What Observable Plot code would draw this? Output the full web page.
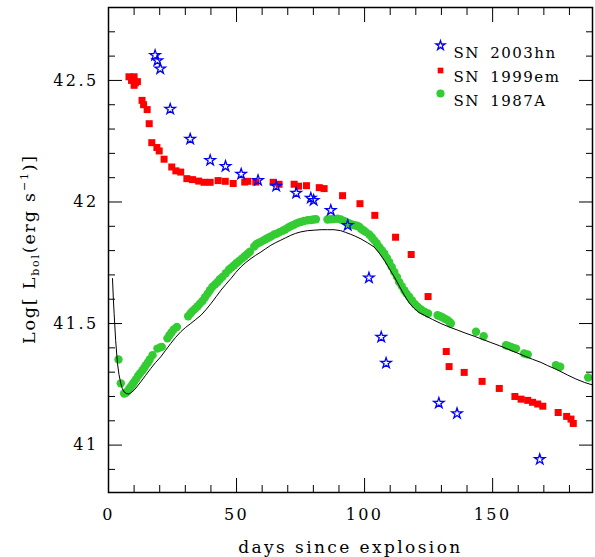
<!DOCTYPE html>
<html><head><meta charset="utf-8">
<script src="https://cdn.jsdelivr.net/npm/d3@7"></script>
<script src="https://cdn.jsdelivr.net/npm/@observablehq/plot@0.6"></script>
<style>body{margin:0;background:#fff}</style>
</head><body><div id="chart"></div>
<script>
// SN 2003hn (blue stars)
const hnDays = [18.2, 19.1, 20.2, 24.1, 31.9, 39.7, 45.7, 51.8, 58.4, 65.5, 73.3, 79.0, 80.1, 86.8, 93.4, 101.7, 106.5, 108.4, 129.0, 136.1, 168.4];
const hnLog  = [42.603, 42.582, 42.548, 42.382, 42.259, 42.171, 42.147, 42.115, 42.089, 42.065, 42.037, 42.016, 42.007, 41.966, 41.904, 41.688, 41.444, 41.337, 41.173, 41.130, 40.941];

// SN 1999em (red squares)
const emDays = [8.0, 9.0, 10.0, 11.3, 10.0, 10.5, 13.1, 13.7, 15.1, 15.9, 16.9, 18.9, 19.8, 21.7, 24.7, 26.3, 28.2, 30.6, 32.8, 35.2, 37.3, 39.7, 42.8, 45.6, 48.7, 53.2, 54.4, 57.5, 64.3, 66.6, 72.5, 74.2, 77.3, 82.3, 84.2, 91.4, 98.2, 104.0, 112.1, 118.2, 124.8, 131.9, 133.0, 138.9, 145.9, 152.6, 158.7, 161.1, 163.7, 165.6, 167.6, 169.6, 175.6, 178.9, 180.6, 181.5];
const emLog  = [42.515, 42.50, 42.515, 42.495, 42.48, 42.49, 42.418, 42.40, 42.38, 42.322, 42.244, 42.224, 42.21, 42.176, 42.144, 42.128, 42.123, 42.096, 42.092, 42.086, 42.081, 42.081, 42.088, 42.085, 42.076, 42.082, 42.085, 42.082, 42.081, 42.073, 42.073, 42.065, 42.067, 42.059, 42.055, 42.026, 41.993, 41.945, 41.855, 41.784, 41.611, 41.385, 41.323, 41.299, 41.262, 41.233, 41.200, 41.189, 41.184, 41.176, 41.169, 41.160, 41.134, 41.118, 41.107, 41.089];

// SN 1987A (green circles)
const aDays = [3.9, 4.8, 6.1, 6.8, 7.4, 8.1, 8.7, 9.4, 10.0, 10.8, 11.6, 12.4, 13.3, 14.0, 14.6, 15.4, 16.1, 17.2, 19.1, 20.2, 20.8, 23.0, 23.8, 24.6, 25.5, 26.7, 31.1, 32.0, 32.8, 33.8, 34.8, 35.7, 36.7, 37.7, 38.7, 39.6, 40.6, 41.6, 42.6, 43.5, 44.5, 45.8, 47.1, 48.1, 49.1, 50.0, 51.0, 52.1, 53.2, 54.2, 55.2, 56.9, 57.8, 58.7, 59.5, 60.5, 61.5, 62.4, 63.4, 64.7, 65.7, 66.8, 68.0, 69.0, 70.2, 71.3, 72.3, 73.2, 74.2, 75.1, 76.3, 77.7, 79.0, 80.0, 81.0, 85.5, 86.8, 88.0, 89.5, 90.7, 92.0, 93.0, 94.0, 95.0, 96.0, 97.0, 97.9, 98.6, 99.5, 100.4, 101.8, 102.8, 103.7, 104.7, 105.7, 106.7, 107.7, 108.7, 109.6, 110.6, 111.6, 112.6, 113.5, 114.5, 115.5, 116.4, 117.4, 118.5, 119.6, 120.8, 122.0, 123.4, 124.8, 128.5, 129.5, 130.5, 131.5, 132.4, 133.1, 133.7, 143.5, 146.5, 155.2, 156.1, 157.1, 158.1, 159.1, 162.3, 163.7, 174.7, 176.4, 187.3];
const aLog  = [41.352, 41.254, 41.212, 41.215, 41.222, 41.232, 41.240, 41.250, 41.260, 41.272, 41.285, 41.296, 41.308, 41.318, 41.329, 41.340, 41.352, 41.370, 41.397, 41.402, 41.404, 41.439, 41.452, 41.463, 41.476, 41.486, 41.530, 41.541, 41.551, 41.561, 41.571, 41.582, 41.593, 41.608, 41.623, 41.637, 41.651, 41.661, 41.671, 41.682, 41.692, 41.707, 41.722, 41.731, 41.740, 41.749, 41.757, 41.767, 41.777, 41.786, 41.795, 41.817, 41.827, 41.832, 41.836, 41.842, 41.848, 41.853, 41.858, 41.866, 41.870, 41.876, 41.882, 41.887, 41.895, 41.901, 41.906, 41.911, 41.915, 41.918, 41.922, 41.925, 41.926, 41.928, 41.929, 41.928, 41.929, 41.930, 41.931, 41.928, 41.922, 41.917, 41.912, 41.908, 41.904, 41.902, 41.898, 41.890, 41.884, 41.877, 41.866, 41.855, 41.843, 41.830, 41.815, 41.802, 41.788, 41.770, 41.753, 41.733, 41.712, 41.692, 41.671, 41.654, 41.637, 41.623, 41.610, 41.595, 41.580, 41.568, 41.558, 41.549, 41.541, 41.534, 41.530, 41.525, 41.519, 41.514, 41.507, 41.500, 41.466, 41.448, 41.411, 41.408, 41.404, 41.400, 41.397, 41.377, 41.373, 41.329, 41.322, 41.278];

// Model light curve (black line)
const modelDays = [1.56, 1.9, 2.2, 2.8, 3.5, 4.1, 4.8, 5.4, 6.1, 7.0, 8.0, 9.0, 10.0, 11.3, 12.6, 14.5, 16.5, 18.4, 20.4, 22.3, 24.3, 26.2, 28.2, 30.1, 32.1, 34.1, 36.1, 38.0, 40.0, 42.0, 43.9, 45.8, 47.8, 49.7, 51.7, 53.6, 55.6, 57.5, 59.5, 61.4, 63.4, 65.3, 67.3, 69.2, 71.2, 73.1, 75.1, 77.7, 80.3, 83.0, 85.5, 88.1, 90.7, 92.6, 94.6, 96.6, 98.6, 101.2, 103.7, 105.7, 107.7, 109.6, 111.6, 113.5, 115.5, 117.4, 119.4, 121.3, 123.3, 126.5, 129.8, 133.0, 136.3, 139.5, 142.8, 146.0, 149.3, 152.6, 155.9, 159.1, 162.3, 165.6, 168.9, 171.5, 174.1, 176.7, 179.3, 182.5, 185.8, 189.1];
const modelLog  = [41.685, 41.60, 41.541, 41.43, 41.336, 41.29, 41.254, 41.232, 41.219, 41.212, 41.210, 41.217, 41.226, 41.243, 41.260, 41.287, 41.315, 41.340, 41.363, 41.39, 41.418, 41.443, 41.466, 41.484, 41.500, 41.517, 41.534, 41.556, 41.582, 41.610, 41.637, 41.661, 41.685, 41.710, 41.733, 41.751, 41.767, 41.781, 41.794, 41.808, 41.822, 41.833, 41.843, 41.853, 41.863, 41.871, 41.877, 41.882, 41.884, 41.886, 41.886, 41.886, 41.882, 41.875, 41.867, 41.858, 41.848, 41.832, 41.815, 41.79, 41.76, 41.727, 41.692, 41.655, 41.617, 41.585, 41.562, 41.545, 41.534, 41.517, 41.500, 41.486, 41.473, 41.460, 41.448, 41.435, 41.422, 41.409, 41.395, 41.381, 41.367, 41.353, 41.340, 41.327, 41.315, 41.302, 41.288, 41.272, 41.258, 41.247];

const legendNames = ["SN 2003hn", "SN 1999em", "SN 1987A"];
const xMajorTicks = [0, 50, 100, 150];
const xMinorTicks = [10, 20, 30, 40, 60, 70, 80, 90, 110, 120, 130, 140, 160, 170, 180];
const yMajorTicks = [41, 41.5, 42, 42.5];
const yMinorTicks = [40.9, 41.1, 41.2, 41.3, 41.4, 41.6, 41.7, 41.8, 41.9, 42.1, 42.2, 42.3, 42.4, 42.6, 42.7];

const toRows = (xs, ys) => xs.map((d, i) => ({day: d, L: ys[i]}));
const hn = toRows(hnDays, hnLog);
const em = toRows(emDays, emLog);
const a87 = toRows(aDays, aLog);
const model = toRows(modelDays, modelLog);

const blank = () => "";
const chart = Plot.plot({
  width: 595, height: 557,
  marginLeft: 108, marginRight: 3, marginTop: 7, marginBottom: 65,
  x: {domain: [0, 189]},
  y: {domain: [40.805, 42.8]},
  style: {fontFamily: "'DejaVu Serif', serif", fontSize: "16px", color: "black", background: "white", letterSpacing: "2.4px", overflow: "visible"},
  marks: [
    Plot.dot(a87, {x: "day", y: "L", r: 4.2, fill: "#33cc33", symbol: "circle", clip: true}),
    Plot.line(model, {x: "day", y: "L", stroke: "black", strokeWidth: 1, clip: true}),
    Plot.dot(em, {x: "day", y: "L", r: 3.95, fill: "#ff0000", symbol: "square"}),
    Plot.dot(hn, {x: "day", y: "L", r: 3.3, fill: "none", stroke: "#0000ff", strokeWidth: 1.3, symbol: "star"}),
    Plot.frame({stroke: "black", strokeWidth: 1.5}),
    // bottom axis
    Plot.axisX(xMajorTicks, {anchor: "bottom", tickSize: 0, tickPadding: 16, tickFormat: d => String(d), label: null}),
    Plot.axisX(xMajorTicks, {anchor: "bottom", tickSize: -14, tickFormat: blank, label: null}),
    Plot.axisX(xMinorTicks, {anchor: "bottom", tickSize: -7, tickFormat: blank, label: null}),
    // top axis
    Plot.axisX(xMajorTicks, {anchor: "top", tickSize: -14, tickFormat: blank, label: null}),
    Plot.axisX(xMinorTicks, {anchor: "top", tickSize: -7, tickFormat: blank, label: null}),
    // left axis
    Plot.axisY(yMajorTicks, {anchor: "left", tickSize: 0, tickPadding: 10, tickFormat: d => String(d), label: null}),
    Plot.axisY(yMajorTicks, {anchor: "left", tickSize: -14, tickFormat: blank, label: null}),
    Plot.axisY(yMinorTicks, {anchor: "left", tickSize: -7, tickFormat: blank, label: null}),
    // right axis
    Plot.axisY(yMajorTicks, {anchor: "right", tickSize: -14, tickFormat: blank, label: null}),
    Plot.axisY(yMinorTicks, {anchor: "right", tickSize: -7, tickFormat: blank, label: null}),
    // x title
    Plot.text(["days since explosion"], {x: null, y: null, frameAnchor: "bottom", dy: 60, lineAnchor: "bottom", fontSize: 17}),
    // legend
    Plot.dot([legendNames[0]], {x: null, y: null, frameAnchor: "top-left", dx: 332, dy: 38, symbol: "star", r: 2.9, fill: "none", stroke: "#0000ff", strokeWidth: 1.3}),
    Plot.dot([legendNames[1]], {x: null, y: null, frameAnchor: "top-left", dx: 332, dy: 63, symbol: "square", r: 3.2, fill: "#ff0000"}),
    Plot.dot([legendNames[2]], {x: null, y: null, frameAnchor: "top-left", dx: 332, dy: 86, symbol: "circle", r: 4.1, fill: "#33cc33"}),
    Plot.text([legendNames.join("\n")], {x: null, y: null, frameAnchor: "top-left", dx: 345, dy: 33, lineAnchor: "top", textAnchor: "start", lineHeight: 1.62, fontSize: 15})
  ]
});

const svg = d3.select(chart);
svg.selectAll("text").filter(function () { return this.textContent.startsWith("SN"); })
  .style("letter-spacing", "1.5px").style("word-spacing", "4px");

// y-axis title with subscript and superscript
const yt = svg.append("text")
  .attr("transform", "translate(35,249) rotate(-90)")
  .attr("text-anchor", "middle")
  .attr("fill", "black")
  .style("font-size", "17.5px")
  .style("letter-spacing", "1.8px");
yt.append("tspan").text("Log[ L");
yt.append("tspan").attr("dy", 4).style("font-size", "11px").text("bol");
yt.append("tspan").attr("dy", -4).text("(erg s");
yt.append("tspan").attr("dy", -7).style("font-size", "11px").text("\u22121");
yt.append("tspan").attr("dy", 7).text(")]");

document.getElementById("chart").appendChild(chart);
</script>
</body></html>
